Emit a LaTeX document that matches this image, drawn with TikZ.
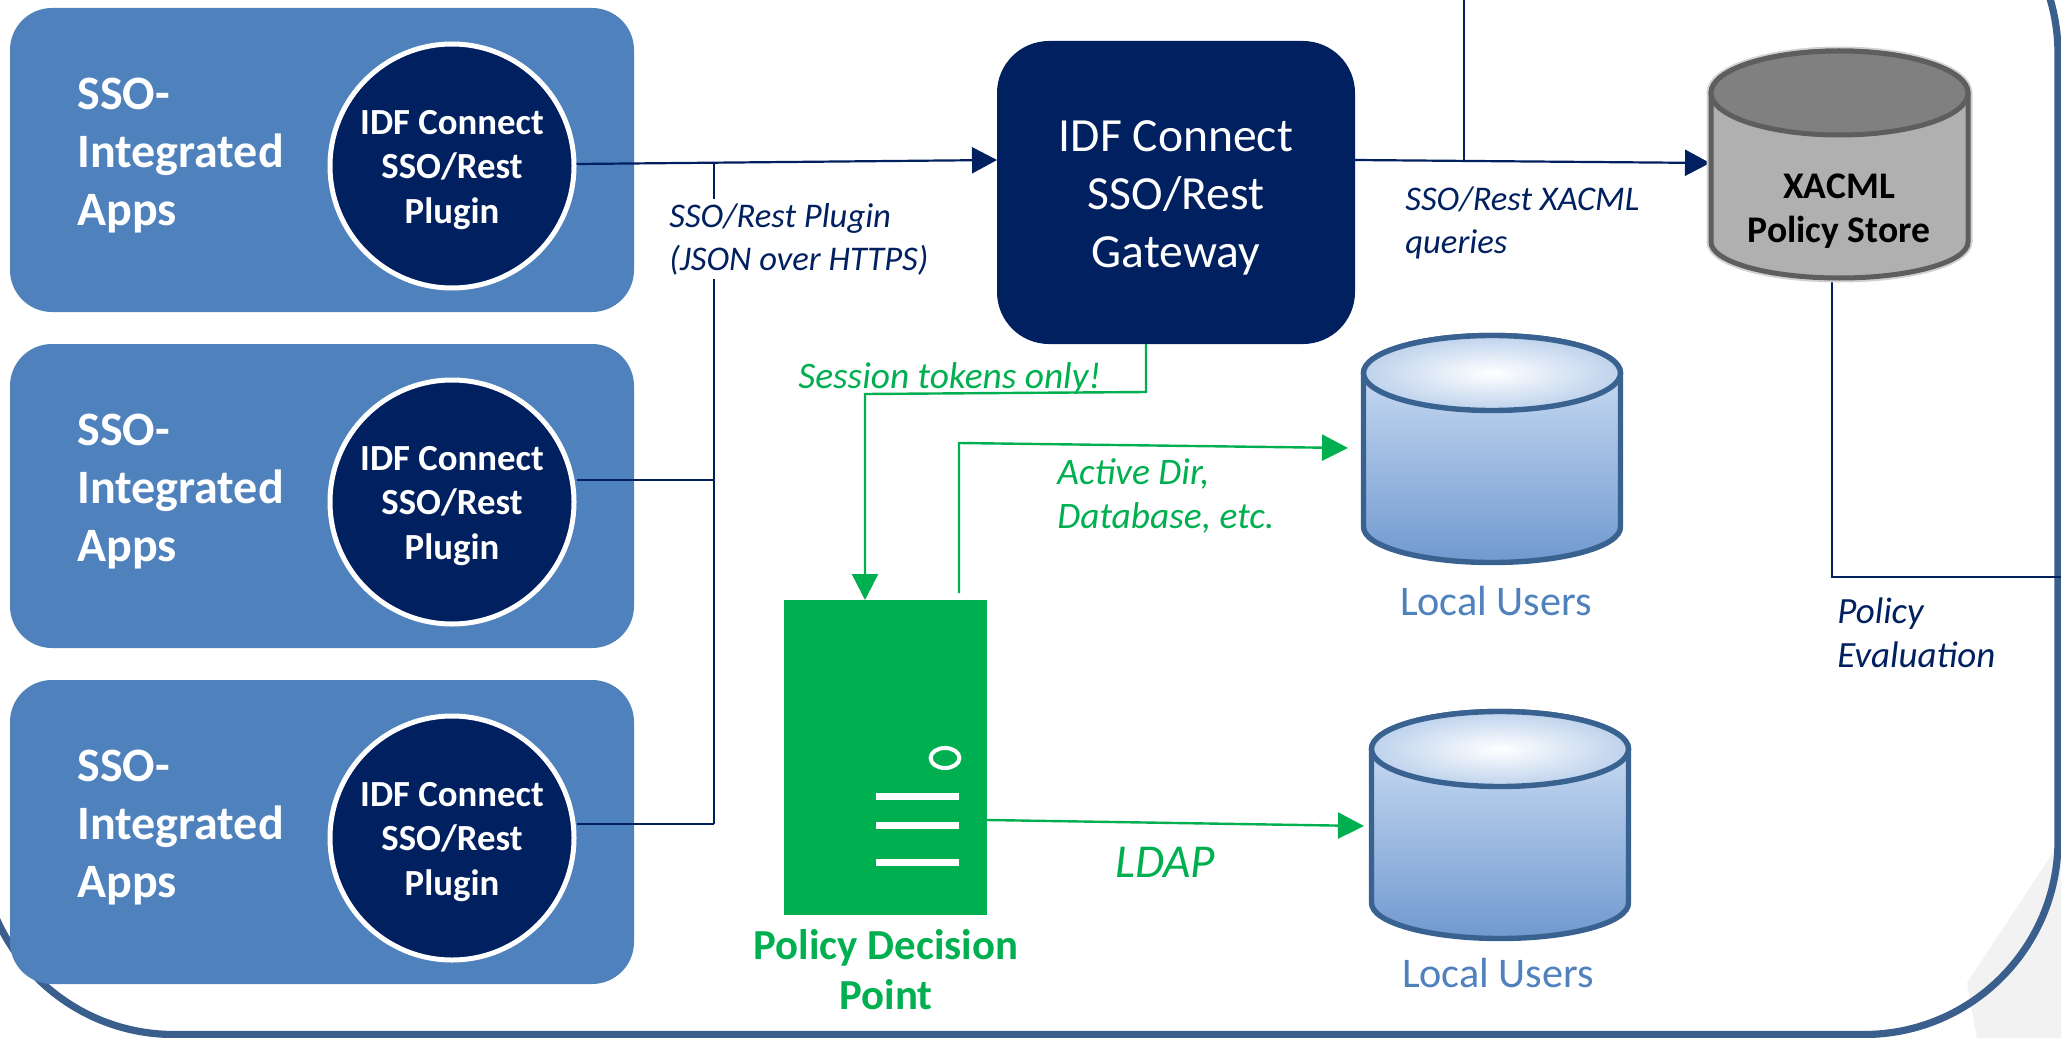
\documentclass[tikz,border=0pt]{standalone}
\usepackage{fontspec}
\setmainfont{Carlito}
\usetikzlibrary{arrows.meta}
\definecolor{navy}{HTML}{002060}
\definecolor{appblue}{HTML}{4F81BD}
\definecolor{frameblue}{HTML}{3A5F8C}
\definecolor{pdpgreen}{HTML}{00B050}
\definecolor{cylline}{HTML}{3A6290}
\definecolor{cylhi}{HTML}{D6E5F8}
\definecolor{cylmid}{HTML}{A4C0E4}
\definecolor{cyllow}{HTML}{7099CF}
\definecolor{cyltop}{HTML}{BDD2EC}
\definecolor{cornergray}{HTML}{F2F2F2}
\tikzset{
  appbox/.style={rectangle,rounded corners=21pt,fill=appblue,minimum width=312pt,minimum height=152pt,inner sep=0pt},
  plugin/.style={circle,draw=white,line width=2.5pt,fill=navy,minimum size=122pt,inner sep=0pt,text=white,align=center,font=\fontsize{18.4}{22.2}\selectfont\bfseries},
  apptext/.style={anchor=west,text=white,align=left,inner sep=0pt,font=\fontsize{24}{29}\selectfont\bfseries},
  gatebox/.style={rectangle,rounded corners=26pt,fill=navy,minimum width=179pt,minimum height=151.5pt,inner sep=0pt,text=white,align=center,font=\fontsize{23.8}{29}\selectfont},
  navylabel/.style={anchor=west,text=navy,align=left,inner sep=0pt,font=\fontsize{17.3}{21.5}\selectfont\itshape},
  greenlabel/.style={anchor=west,text=pdpgreen,align=left,inner sep=0pt,font=\fontsize{18.7}{21.8}\selectfont\itshape},
  navyline/.style={draw=navy,line width=1.1pt},
  navyarrow/.style={navyline,-{Triangle[length=12.5pt,width=13pt]}},
  greenline/.style={draw=pdpgreen,line width=1.2pt},
  greenarrow/.style={greenline,-{Triangle[length=13pt,width=13pt]}},
  userlabel/.style={text=appblue,inner sep=0pt,font=\fontsize{21.1}{25}\selectfont},
  pdpbar/.style={draw=white,line width=3.5pt},
}
\newcommand{\bluecyl}[2]{%
  \begin{scope}[shift={(#1,#2)}]
    \path[draw=cylline,line width=2.7pt,shade,top color=cylhi,middle color=cylmid,bottom color=cyllow]
      (1363.5,373) -- (1363.5,527) arc[start angle=180,end angle=360,x radius=64.25pt,y radius=17.75pt]
      -- (1620.5,373) arc[start angle=0,end angle=180,x radius=64.25pt,y radius=18.75pt] -- cycle;
    \path[draw=cylline,line width=2.7pt,shading=radial,inner color=white,outer color=cyltop]
      (1492,373) ellipse[x radius=64.25pt,y radius=18.75pt];
  \end{scope}}
\begin{document}
\begin{tikzpicture}[x=0.5pt,y=-0.5pt]
\useasboundingbox (0,0) rectangle (2061,1038);
\clip (0,0) rectangle (2061,1038);
\fill[white] (0,0) rectangle (2061,1038);
% page corner
\fill[cornergray] (2058,845) -- (1967,983) -- (1977,1038) -- (2061,1038) -- (2061,845) -- cycle;
% frame
\draw[frameblue,line width=3.6pt,rounded corners=97pt] (-20,-140) rectangle (2058,1034.5);
% apps
\node[appbox] (app1) at (322,160) {};
\node[appbox] (app2) at (322,496) {};
\node[appbox] (app3) at (322,832) {};
\node[apptext] (apptext1) at (77,156) {SSO-\\Integrated\\Apps};
\node[apptext] (apptext2) at (77,492) {SSO-\\Integrated\\Apps};
\node[apptext] (apptext3) at (77,828) {SSO-\\Integrated\\Apps};
\node[plugin] (plug1) at (452,166) {};
\node[plugin] (plug2) at (452,502) {};
\node[plugin] (plug3) at (452,838) {};
\node[text=white,align=center,inner sep=0pt,font=\fontsize{18.4}{22.2}\selectfont\bfseries] (plugtext1) at (452,170) {IDF Connect\\SSO/Rest\\Plugin};
\node[text=white,align=center,inner sep=0pt,font=\fontsize{18.4}{22.2}\selectfont\bfseries] (plugtext2) at (452,506) {IDF Connect\\SSO/Rest\\Plugin};
\node[text=white,align=center,inner sep=0pt,font=\fontsize{18.4}{22.2}\selectfont\bfseries] (plugtext3) at (452,842) {IDF Connect\\SSO/Rest\\Plugin};
% gateway
\node[gatebox] (gate) at (1176,192.5) {};
\node[text=white,align=center,inner sep=0pt,font=\fontsize{23.8}{29}\selectfont] (gatetext) at (1176,198) {IDF Connect\\SSO/Rest\\Gateway};
% named points
\coordinate (busTop) at (714,163);
\coordinate (busMid) at (714,480);
\coordinate (busEnd) at (714,824);
\coordinate (gateIn) at (997,160);
\coordinate (gateOut) at (1355,160);
\coordinate (xacmlIn) at (1710,163);
\coordinate (queryJoin) at (1464,161);
\coordinate (queryTop) at (1464,0);
\coordinate (xacmlOut) at (1832,280);
\coordinate (evalCorner) at (1832,577);
\coordinate (evalEnd) at (2061,577);
% navy connectors
\draw[navyarrow] (plug1.east |- 0,164) -- (gateIn);
\draw[navyline] (busTop) -- (busEnd);
\draw[navyline] (plug2.east |- busMid) -- (busMid);
\draw[navyline] (plug3.east |- busEnd) -- (busEnd);
\draw[navyarrow] (gateOut) -- (xacmlIn);
\draw[navyline] (queryTop) -- (queryJoin);
\draw[navyline] (xacmlOut) -- (evalCorner) -- (evalEnd);
% xacml store
\path[draw=gray!35,line width=4.5pt] (1711,93) -- (1711,242) arc[start angle=180,end angle=360,x radius=64.25pt,y radius=18pt] -- (1968,93) arc[start angle=0,end angle=180,x radius=64.25pt,y radius=21pt] -- cycle;
\path[draw=black!63,fill=black!31,line width=2.5pt] (1711,93) -- (1711,242) arc[start angle=180,end angle=360,x radius=64.25pt,y radius=18pt] -- (1968,93) arc[start angle=0,end angle=180,x radius=64.25pt,y radius=21pt] -- cycle;
\path[draw=black!63,fill=black!50,line width=2.5pt] (1839.5,93) ellipse[x radius=64.25pt,y radius=21pt];
\node[text=black,align=center,inner sep=0pt,font=\fontsize{18.8}{22}\selectfont\bfseries] (xacml) at (1839,211) {XACML\\Policy Store};
% blue cylinders
\bluecyl{0}{0}
\bluecyl{8}{376}
\node[userlabel] (users1) at (1496,601) {Local Users};
\node[userlabel] (users2) at (1498,973) {Local Users};
% PDP
\node[rectangle,fill=pdpgreen,minimum width=101.5pt,minimum height=157.5pt,inner sep=0pt] (pdp) at (885.5,757.5) {};
\draw[white,line width=2pt] (945,758) ellipse[x radius=7.2pt,y radius=5pt];
\draw[pdpbar] (876,796) -- (959,796);
\draw[pdpbar] (876,825) -- (959,825);
\draw[pdpbar] (876,862) -- (959,862);
\node[text=pdpgreen,align=center,inner sep=0pt,font=\fontsize{21.4}{25}\selectfont\bfseries] (pdplabel) at (886,970) {Policy Decision\\Point};
% green connectors
\coordinate (gateDown) at (1146,344);
\coordinate (bend1) at (1146,392);
\coordinate (bend2) at (865,394);
\coordinate (pdpIn) at (865,600);
\coordinate (pdpUp) at (959,593);
\coordinate (bend3) at (959,443);
\coordinate (users1In) at (1348,448);
\coordinate (pdpRight) at (987,820);
\coordinate (users2In) at (1364,826);
\draw[greenarrow] (gateDown) -- (bend1) -- (bend2) -- (pdpIn);
\draw[greenarrow] (pdpUp) -- (bend3) -- (users1In);
\draw[greenarrow] (pdpRight) -- (users2In);
% labels
\node[navylabel,fill=white,inner ysep=2pt] (plugLabel) at (669,239) {SSO/Rest Plugin\\(JSON over HTTPS)};
\node[navylabel] (queryLabel) at (1405,223) {SSO/Rest XACML\\queries};
\node[navylabel,font=\fontsize{18.5}{22}\selectfont\itshape] (evalLabel) at (1837,633) {Policy\\Evaluation};
\node[greenlabel] (sessionLabel) at (798,379) {Session tokens only!};
\node[greenlabel] (adLabel) at (1057,496) {Active Dir,\\Database, etc.};
\node[greenlabel,font=\fontsize{23.6}{26}\selectfont\itshape] (ldapLabel) at (1115,862) {LDAP};
\end{tikzpicture}
\end{document}
